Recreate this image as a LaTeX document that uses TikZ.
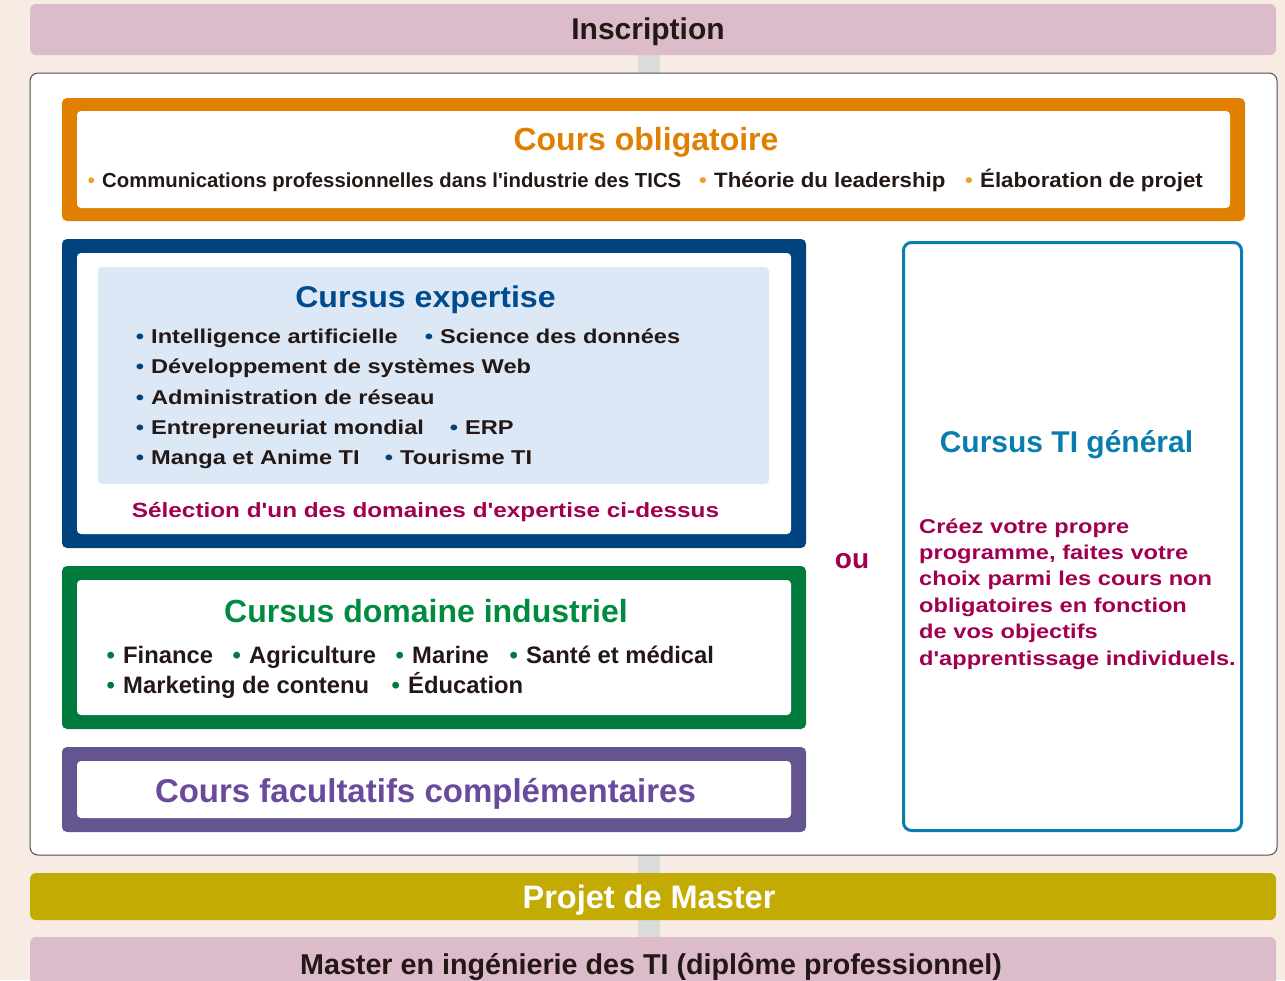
\documentclass[tikz,border=0pt]{standalone}
\usepackage{fontspec}
\setmainfont{Liberation Sans}
\newfontfamily\widesans[FakeStretch=1.18]{Liberation Sans}
\newfontfamily\midsans[FakeStretch=1.07]{Liberation Sans}
\usepackage{xcolor}
\usetikzlibrary{backgrounds}

\definecolor{peach}{HTML}{F7EBE3}
\definecolor{barpink}{HTML}{DCBBCA}
\definecolor{barolive}{HTML}{C3AB04}
\definecolor{spinegrey}{HTML}{D9DCDB}
\definecolor{ink}{HTML}{231815}
\definecolor{oblig}{HTML}{E07F00}
\definecolor{obligdot}{HTML}{EBA12E}
\definecolor{expblue}{HTML}{00437F}
\definecolor{exptext}{HTML}{004B8D}
\definecolor{exppanel}{HTML}{DDE8F6}
\definecolor{indgreen}{HTML}{007A3D}
\definecolor{indtext}{HTML}{008C40}
\definecolor{facpurple}{HTML}{645490}
\definecolor{factext}{HTML}{6A4A9C}
\definecolor{tiblue}{HTML}{0A7DB0}
\definecolor{crimson}{HTML}{A0004F}

\newcommand{\fs}[1]{\fontsize{#1}{#1}\selectfont}
\newcommand{\bul}[1]{\llap{{\color{#1}\textbullet}\hspace{0.35em}}}

\begin{document}
\begin{tikzpicture}[x=1pt, y=-1pt,
		bar/.style={rounded corners=6pt, inner sep=0pt, minimum width=1246pt},
		outerbox/.style={rounded corners=5pt, inner sep=0pt, minimum width=744pt},
		innerbox/.style={fill=white, rounded corners=4pt, inner sep=0pt, minimum width=714pt},
		title/.style={anchor=base, inner sep=0pt, font=\bfseries\fs{32}},
		item/.style={anchor=base west, inner sep=0pt, text=ink, font=\bfseries\fs{20.3}},
		wideitem/.style={anchor=base west, inner sep=0pt, text=ink, font=\widesans\bfseries\fs{20}},
		spine/.style={line width=22pt, spinegrey}]
	\useasboundingbox (0,0) rectangle (1285,980);

	% bars
	\node[bar, fill=barpink, minimum height=51pt] (inscrbar) at (653,29.5) {};
	\node[title, text=ink, font=\bfseries\fs{30}] (inscr) at (648,39) {Inscription};

	\node[draw=black!70, line width=1pt, fill=white, rounded corners=8pt,
		minimum width=1247pt, minimum height=782pt] (main) at (653.5,464) {};

	\node[bar, fill=barolive, minimum height=47pt] (projetbar) at (653,896.5) {};
	\node[title, text=white, font=\bfseries\fs{32.5}] (projet) at (649,908) {Projet de Master};

	\node[bar, fill=barpink, minimum height=48pt] (masterbar) at (653,961) {};
	\node[title, text=ink, font=\bfseries\fs{28.7}] (master) at (651,974)
		{Master en ingénierie des TI (diplôme professionnel)};

	% cours obligatoire
	\node[outerbox, fill=oblig, minimum width=1183pt, minimum height=123pt] (obligframe) at (653.5,159.5) {};
	\node[innerbox, minimum width=1153pt, minimum height=97pt] (obliginner) at (obligframe) {};
	\node[title, text=oblig] (obligtitle) at (646,150) {Cours obligatoire};
	\node[item] (comm) at (102,187) {\bul{obligdot}Communications professionnelles dans l\textquotesingle industrie des TICS};
	\node[item, font=\midsans\bfseries\fs{20.8}] (lead) at (714,187) {\bul{obligdot}Théorie du leadership};
	\node[item, font=\midsans\bfseries\fs{20.8}] (elab) at (980,187) {\bul{obligdot}Élaboration de projet};

	% cursus expertise
	\node[outerbox, fill=expblue, minimum height=309pt] (expframe) at (434,393.5) {};
	\node[innerbox, minimum height=281pt] (expinner) at (expframe) {};
	\node[fill=exppanel, rounded corners=4pt, minimum width=671pt, minimum height=217pt] (exppanel) at (433.5,375.5) {};
	\node[title, text=exptext, font=\midsans\bfseries\fs{30}] (exptitle) at (425.5,307) {Cursus expertise};
	\node[wideitem] (ia) at (151,343) {\bul{expblue}Intelligence artificielle};
	\node[wideitem] (data) at (440,343) {\bul{expblue}Science des données};
	\node[wideitem] (web) at (151,373) {\bul{expblue}Développement de systèmes Web};
	\node[wideitem] (reseau) at (151,404) {\bul{expblue}Administration de réseau};
	\node[wideitem] (entre) at (151,434) {\bul{expblue}Entrepreneuriat mondial};
	\node[wideitem] (erp) at (465,434) {\bul{expblue}ERP};
	\node[wideitem] (manga) at (151,464) {\bul{expblue}Manga et Anime TI};
	\node[wideitem] (tourisme) at (400,464) {\bul{expblue}Tourisme TI};
	\node[title, text=crimson, font=\widesans\bfseries\fs{20.6}] (selection) at (425.5,517)
		{Sélection d'un des domaines d'expertise ci-dessus};

	% cursus domaine industriel
	\node[outerbox, fill=indgreen, minimum height=163pt] (indframe) at (434,647.5) {};
	\node[innerbox, minimum height=135pt] (indinner) at (indframe) {};
	\node[title, text=indtext] (indtitle) at (426,622) {Cursus domaine industriel};
	\node[item, font=\bfseries\fs{23.8}] (finance) at (123,663) {\bul{indgreen}Finance};
	\node[item, font=\bfseries\fs{23.8}] (agri) at (249,663) {\bul{indgreen}Agriculture};
	\node[item, font=\bfseries\fs{23.8}] (marine) at (412,663) {\bul{indgreen}Marine};
	\node[item, font=\bfseries\fs{23.8}] (sante) at (526,663) {\bul{indgreen}Santé et médical};
	\node[item, font=\bfseries\fs{23.8}] (marketing) at (123,693) {\bul{indgreen}Marketing de contenu};
	\node[item, font=\bfseries\fs{23.8}] (educ) at (408,693) {\bul{indgreen}Éducation};

	% cours facultatifs
	\node[outerbox, fill=facpurple, minimum height=85pt] (facframe) at (434,789.5) {};
	\node[innerbox, minimum height=57pt] (facinner) at (facframe) {};
	\node[title, text=factext, font=\bfseries\fs{33}] (factitle) at (425.5,802) {Cours facultatifs complémentaires};

	% ou + cursus TI general
	\node[title, text=crimson, font=\bfseries\fs{28}] (ou) at (852,568) {ou};
	\node[draw=tiblue, line width=3pt, rounded corners=8pt, fill=white,
		minimum width=338pt, minimum height=588pt] (tiframe) at (1072.5,536.5) {};
	\node[title, text=tiblue, font=\bfseries\fs{30}] (tititle) at (1066.5,452) {Cursus TI général};
	\node[anchor=base west, inner sep=0pt, text=crimson, text width=330pt, align=left,
		font=\widesans\bfseries\fontsize{20}{26.4}\selectfont] (tibody) at (919,533)
		{Créez votre propre\\programme, faites votre\\choix parmi les cours non\\obligatoires en fonction\\de vos objectifs\\d'apprentissage individuels.};

	% background and spine
	\coordinate (spinex) at (649,0);
	\begin{pgfonlayer}{background}
		\fill[peach] (0,0) rectangle (1285,980);
		\draw[spine] (inscrbar.south -| spinex) -- (masterbar.north -| spinex);
	\end{pgfonlayer}
\end{tikzpicture}
\end{document}
